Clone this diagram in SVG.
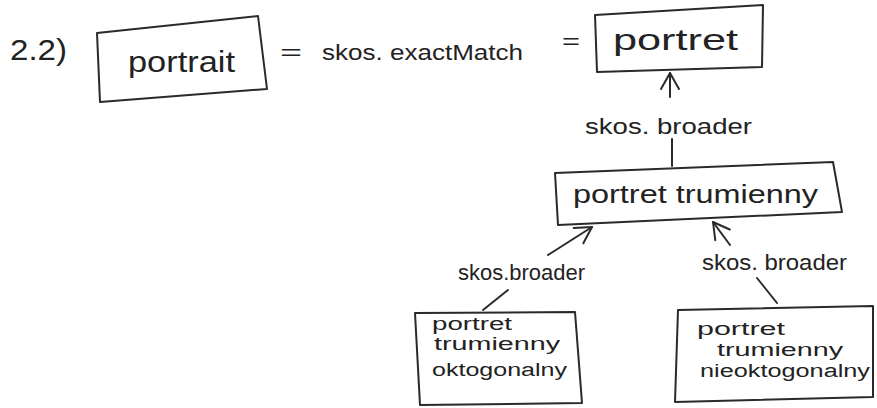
<svg xmlns="http://www.w3.org/2000/svg" width="877" height="408" viewBox="0 0 877 408">
<defs>
<style>
.box{fill:none;stroke:#2a2a2a;stroke-width:2;stroke-linejoin:round}
.edge{fill:none;stroke:#2a2a2a;stroke-width:2;stroke-linecap:round}
text{font-family:"Liberation Sans","DejaVu Sans",sans-serif;fill:#222}
.big{font-size:30px}
.mid{font-size:26px}
.lbl{font-size:22px}
.small{font-size:18px}
</style>
<marker id="open" markerUnits="userSpaceOnUse" viewBox="-20 -12 22 24" refX="0" refY="0" markerWidth="22" markerHeight="24" orient="auto" overflow="visible">
<path d="M -16 -9 L 0 0 L -16 9" fill="none" stroke="#2a2a2a" stroke-width="2" stroke-linecap="round" stroke-linejoin="round"/>
</marker>
</defs>
<rect width="877" height="408" fill="#ffffff"/>
<text class="big" x="10" y="60" textLength="57" lengthAdjust="spacingAndGlyphs">2.2)</text>
<g id="node-portrait">
<polygon class="box" points="97,33 258,16 267,89 100,102"/>
<text class="big" x="128" y="72" textLength="107" lengthAdjust="spacingAndGlyphs">portrait</text>
</g>
<g id="relation-exactMatch">
<text class="lbl" x="280" y="60" textLength="22" lengthAdjust="spacingAndGlyphs">=</text>
<text class="lbl" x="322" y="60" textLength="201" lengthAdjust="spacingAndGlyphs">skos. exactMatch</text>
<text class="lbl" x="562" y="49" textLength="18" lengthAdjust="spacingAndGlyphs">=</text>
</g>
<g id="node-portret">
<polygon class="box" points="595,15 763,5 762,67 597,72"/>
<text class="big" x="613" y="50" textLength="125" lengthAdjust="spacingAndGlyphs">portret</text>
</g>
<g id="node-portret-trumienny">
<polygon class="box" points="555,173 833,162 842,212 558,225"/>
<text class="mid" x="573" y="203" textLength="245" lengthAdjust="spacingAndGlyphs">portret trumienny</text>
</g>
<g id="node-oktogonalny">
<polygon class="box" points="415,313 575,312 582,403 420,405"/>
<text class="small" x="432" y="330" textLength="80" lengthAdjust="spacingAndGlyphs">portret</text>
<text class="small" x="434" y="350" textLength="126" lengthAdjust="spacingAndGlyphs">trumienny</text>
<text class="small" x="432" y="376" textLength="135" lengthAdjust="spacingAndGlyphs">oktogonalny</text>
</g>
<g id="node-nieoktogonalny">
<polygon class="box" points="678,310 873,306 873,397 675,402"/>
<text class="small" x="697" y="335" textLength="88" lengthAdjust="spacingAndGlyphs">portret</text>
<text class="small" x="717" y="356" textLength="126" lengthAdjust="spacingAndGlyphs">trumienny</text>
<text class="small" x="700" y="377" textLength="170" lengthAdjust="spacingAndGlyphs">nieoktogonalny</text>
</g>
<g id="connectors">
<line class="edge" x1="670" y1="97" x2="670" y2="73" marker-end="url(#open)"/>
<line class="edge" x1="672" y1="139" x2="672" y2="166"/>
<text class="lbl" x="585" y="134" textLength="167" lengthAdjust="spacingAndGlyphs">skos. broader</text>
<line class="edge" x1="483" y1="310" x2="508" y2="290"/>
<line class="edge" x1="548" y1="255" x2="592" y2="227" marker-end="url(#open)"/>
<text class="lbl" x="458" y="280" textLength="127" lengthAdjust="spacingAndGlyphs">skos.broader</text>
<line class="edge" x1="777" y1="303" x2="757" y2="278"/>
<line class="edge" x1="730" y1="245" x2="713" y2="222" marker-end="url(#open)"/>
<text class="lbl" x="702" y="270" textLength="145" lengthAdjust="spacingAndGlyphs">skos. broader</text>
</g>
</svg>
